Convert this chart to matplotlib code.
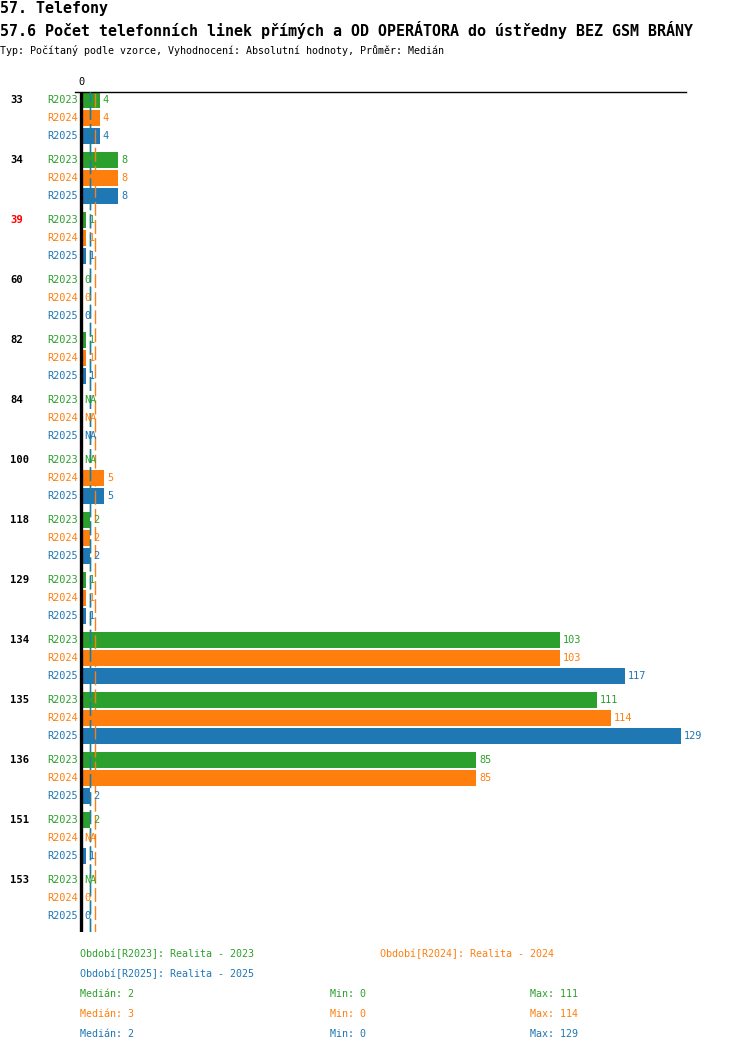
import matplotlib
matplotlib.use("Agg")
import matplotlib.pyplot as plt
import numpy as np

W, H = 750, 1052
GREEN, ORANGE, BLUE, RED = "#2ca02c", "#ff7f0e", "#1f77b4", "#ff0000"
MONO = ["DejaVu Sans Mono", "Liberation Mono"]

groups = ["33", "34", "39", "60", "82", "84", "100", "118", "129",
          "134", "135", "136", "151", "153"]
highlight = ["39"]
periods = ["R2023", "R2024", "R2025"]
period_names = ["Realita - 2023", "Realita - 2024", "Realita - 2025"]
nan = np.nan
r2023 = [4, 8, 1, 0, 1, nan, nan, 2, 1, 103, 111, 85, 2, nan]
r2024 = [4, 8, 1, 0, 1, nan, 5, 2, 1, 103, 114, 85, nan, 0]
r2025 = [4, 8, 1, 0, 1, nan, 5, 2, 1, 117, 129, 2, 1, 0]
series = [r2023, r2024, r2025]
colors = [GREEN, ORANGE, BLUE]

# pixel layout
PX_PER_UNIT = 600 / 129
AX_L, AX_R, AX_T, AX_B = 75, 686, 92, 932
GROUP_STEP, ROW_STEP, BAR_H = 60, 18, 16


def fx(x):
    return x / W


def fy(y):
    return 1 - y / H


fig = plt.figure(figsize=(W / 100, H / 100), dpi=100)
ax = fig.add_axes([fx(AX_L), fy(AX_B), (AX_R - AX_L) / W, (AX_B - AX_T) / H])
ax.set_xlim(-(81 - AX_L) / PX_PER_UNIT, (AX_R - 81) / PX_PER_UNIT)
ax.set_ylim(AX_B - AX_T, 0)
for s in ["right", "bottom", "left"]:
    ax.spines[s].set_visible(False)
ax.spines["top"].set_linewidth(1)
ax.set_xticks([])
ax.set_yticks([])

for k, (vals, c) in enumerate(zip(series, colors)):
    v = np.array(vals, dtype=float)
    ypos = np.arange(len(groups)) * GROUP_STEP + k * ROW_STEP + 8
    ok = ~np.isnan(v)
    ax.barh(ypos[ok], v[ok], height=BAR_H, color=c, zorder=2)
    for y, val in zip(ypos, v):
        txt = "NA" if np.isnan(val) else f"{val:g}"
        xv = 0 if np.isnan(val) else val
        ax.annotate(txt, (xv, y), xytext=(3, 0), textcoords="offset pixels",
                    va="center", ha="left", fontsize=7.4, color=c,
                    family=MONO, zorder=4)
        fig.text(fx(78), fy(AX_T + y), periods[k], ha="right", va="center",
                 fontsize=7.4, color=c, family=MONO)

# medians
meds = [np.nanmedian(np.array(v, dtype=float)) for v in series]
styles = [(0, (10, 3)), (4, (10, 3)), (0, (10, 3))]
for m, c, ls in zip(meds, colors, styles):
    ax.axvline(m, color=c, lw=1, ls=ls, zorder=3)

ax.axvline(0, color="black", lw=2.4, zorder=5)
fig.text(fx(81), fy(82), "0", ha="center", va="center", fontsize=7.4,
         family=MONO)

for i, g in enumerate(groups):
    fig.text(fx(10), fy(AX_T + i * GROUP_STEP + 8), g, ha="left",
             va="center", fontsize=7.6, fontweight="bold", family=MONO,
             color=RED if g in highlight else "black")

# titles
fig.text(0, fy(8), "57. Telefony", ha="left", va="center", fontsize=10.8,
         fontweight="bold", family=MONO)
fig.text(0, fy(30), "57.6 Počet telefonních linek přímých a OD OPERÁTORA "
         "do ústředny BEZ GSM BRÁNY", ha="left", va="center", fontsize=10.8,
         fontweight="bold", family=MONO)
fig.text(0, fy(50), "Typ: Počítaný podle vzorce, Vyhodnocení: Absolutní "
         "hodnoty, Průměr: Medián", ha="left", va="center", fontsize=7.2,
         family=MONO)

# legend
leg_pos = [(80, 954), (380, 954), (80, 974)]
for (x, y), p, n, c in zip(leg_pos, periods, period_names, colors):
    fig.text(fx(x), fy(y), f"Období[{p}]: {n}", ha="left", va="center",
             fontsize=7.2, color=c, family=MONO)
for k, (vals, c) in enumerate(zip(series, colors)):
    v = np.array(vals, dtype=float)
    y = 994 + k * 20
    fig.text(fx(80), fy(y), f"Medián: {np.nanmedian(v):g}", ha="left",
             va="center", fontsize=7.2, color=c, family=MONO)
    fig.text(fx(330), fy(y), f"Min: {np.nanmin(v):g}", ha="left",
             va="center", fontsize=7.2, color=c, family=MONO)
    fig.text(fx(530), fy(y), f"Max: {np.nanmax(v):g}", ha="left",
             va="center", fontsize=7.2, color=c, family=MONO)

fig.savefig("out.png", dpi=100)
